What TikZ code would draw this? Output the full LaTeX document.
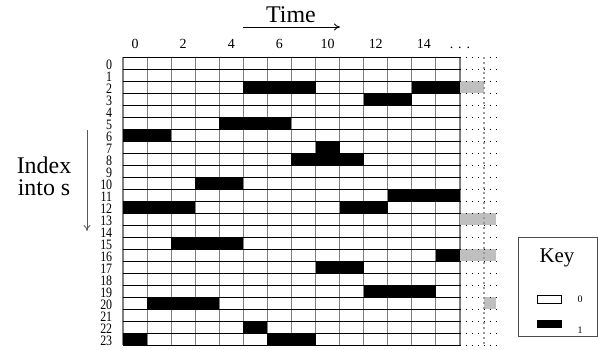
\documentclass[tikz,border=0pt]{standalone}
\usepackage{fontspec}
\setmainfont{Liberation Serif}
\usepackage{tikz}
\usetikzlibrary{arrows.meta}

\begin{document}
\begin{tikzpicture}[x=1bp, y=-1bp,
                    vline/.style={draw=black!50, line width=1.1bp},
                    hline/.style={draw=black, line width=0.9bp},
                    bit/.style={fill=black},
                    unknown/.style={fill=black!25},
                    dotline/.style={draw=black, line width=0.9bp, dash pattern=on 1bp off 5bp},
                    dotvline/.style={draw=black!40, line width=1.2bp, dash pattern=on 2bp off 3bp},
                    axisarrow/.style={-{To[length=6bp, width=7bp]}, line width=0.9bp},
                    collabel/.style={anchor=base, inner sep=0pt, font=\fontsize{14}{14}\selectfont},
                    rowlabel/.style={anchor=base east, inner sep=0pt, font=\fontsize{12}{12}\selectfont},
                    big/.style={anchor=base, inner sep=0pt, font=\fontsize{24}{24}\selectfont}]
  \useasboundingbox (0,0) rectangle (598,349);

  \node[big] (time) at (291,22) {Time};
  \coordinate (timestart) at (243,27);
  \coordinate (timeend) at (340,27);
  \draw[axisarrow] (timestart) -- (timeend);

  \node[big] (index) at (44,173) {Index};
  \node[big] (into) at (44,195) {into s};
  \coordinate (indexstart) at (87,130);
  \coordinate (indexend) at (87,231);
  \draw[axisarrow, draw=black!65] (indexstart) -- (indexend);

  \begin{scope}[shift={(123,57)}, x=24.07bp, y=-12bp]
    % known part of the table
    \foreach \c in {0,...,14}
      \draw[vline] (\c,0) -- (\c,24);
    \foreach \r in {0,...,24}
      \draw[hline] (0,\r) -- (14,\r);
    \foreach \r/\a/\b in {2/5/7, 2/12/13, 3/10/11, 5/4/6, 6/0/1, 7/8/8, 8/7/9,
                          10/3/4, 11/11/13, 12/0/2, 12/9/10, 15/2/4, 16/13/13,
                          17/8/9, 19/10/12, 20/1/3, 22/5/5, 23/0/0, 23/6/7}
      \fill[bit] (\a,\r) rectangle (\b+1,\r+1);

    % what comes after
    \foreach \r/\a/\b in {2/14/15, 13/14/15.5, 16/14/15.5, 20/15/15.5}
      \fill[unknown] (\a,\r) rectangle (\b,\r+1);
    \foreach \r in {0,...,24}
      \draw[dotline] (14,\r) -- (15.5,\r);
    \draw[dotvline] (15,0) -- (15,24);

    \foreach \c/\t in {0/0, 2/2, 4/4, 6/6, 8/10, 10/12, 12/14}
      \node[collabel] (col\c) at (\c+0.5,-0.75) {\t};
    \node[collabel] (coldots) at (14,-0.75) {.\hspace{5bp}.\hspace{5bp}.};
    \foreach \r in {0,...,23}
      \node[rowlabel] (row\r) at (-0.44,\r+1.08) {\scalebox{1}[1.2]{\r}};
  \end{scope}

  \node[draw=black!70, line width=0.9bp, minimum width=79bp, minimum height=99bp, inner sep=0pt] (key) at (557.5,286.5) {};
  \node[anchor=base, inner sep=0pt, font=\fontsize{21}{21}\selectfont] (keytitle) at (557,262) {Key};
  \node[draw, line width=0.8bp, minimum width=24bp, minimum height=8bp, inner sep=0pt] (zero) at (549,299) {};
  \node[fill=black, minimum width=25bp, minimum height=8bp, inner sep=0pt] (one) at (549.5,324) {};
  \node[anchor=base, inner sep=0pt, font=\fontsize{10}{10}\selectfont] (zerolabel) at (580,302) {0};
  \node[anchor=base, inner sep=0pt, font=\fontsize{10}{10}\selectfont] (onelabel) at (580,333) {1};
\end{tikzpicture}
\end{document}
